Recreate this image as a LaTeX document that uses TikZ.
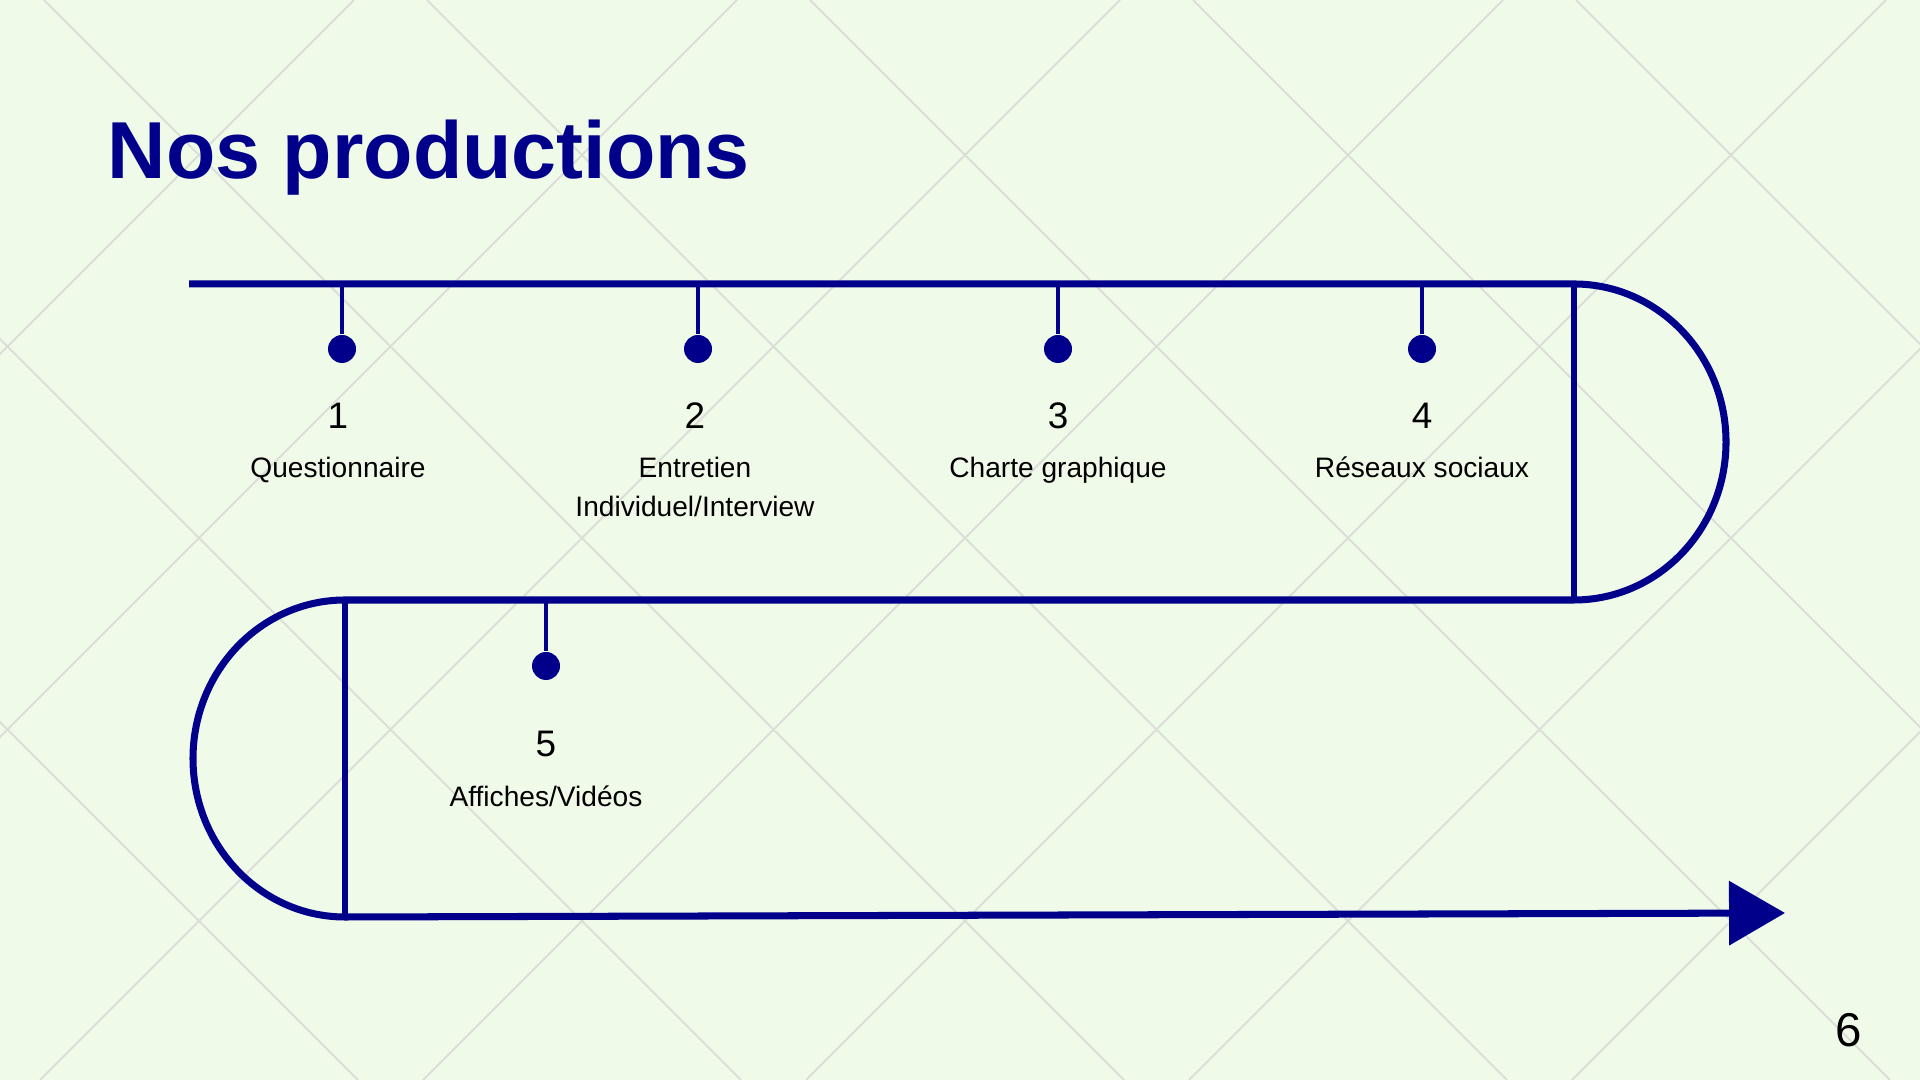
\documentclass[tikz,border=0pt]{standalone}
\usepackage{fontspec}
\setmainfont{Liberation Sans}
\usetikzlibrary{arrows.meta}
\definecolor{navy}{RGB}{0,0,139}
\definecolor{fond}{RGB}{240,250,233}
\definecolor{trame}{RGB}{220,223,216}

\begin{document}
\begin{tikzpicture}[
  frise/.style={draw=navy, line width=2pt},
  bord/.style={draw=navy, line width=1.8pt},
  tige/.style={draw=navy, line width=1.3pt},
  point/.style={circle, fill=navy, inner sep=0pt, minimum size=2.8mm},
  num/.style={anchor=base, inner sep=0pt, font=\fontsize{10.5}{12}\selectfont},
  lab/.style={anchor=base, inner sep=0pt, align=center, font=\fontsize{8}{11.1}\selectfont}
]
  % fond et trame
  \useasboundingbox (0,0) rectangle (19.2,10.8);
  \fill[fond] (0,0) rectangle (19.2,10.8);
  \begin{scope}
    \clip (0,0) rectangle (19.2,10.8);
    \foreach \k in {-4,...,2} \draw[trame, line width=0.55pt] ({8.10+3.83*\k},10.8) -- ++(10.8,-10.8);
    \foreach \k in {-2,...,4} \draw[trame, line width=0.55pt] ({11.20+3.83*\k},10.8) -- ++(-10.8,-10.8);
  \end{scope}

  \node[anchor=base west, inner sep=0pt, text=navy, font=\fontsize{23}{26}\selectfont\bfseries] (titre) at (1.07,9.01) {Nos productions};

  % frise
  \coordinate (a0) at (1.89,7.96);
  \coordinate (a1) at (15.74,7.96);
  \coordinate (a2) at (15.74,4.80);
  \coordinate (a3) at (3.45,4.80);
  \coordinate (a4) at (3.45,1.63);
  \coordinate (fin) at (17.85,1.67);
  \draw[frise] (a0) -- (a1) arc[start angle=90, end angle=-90, x radius=1.52, y radius=1.58] -- (a3) arc[start angle=90, end angle=270, x radius=1.52, y radius=1.585];
  \draw[bord] (a1) -- (a2);
  \draw[bord] (a3) -- (a4);
  \draw[frise, -{Triangle[length=5.6mm, width=6.3mm]}] (a4) -- (fin);

  \coordinate (s1) at (3.42,7.96);  \node[point] (p1) at (3.42,7.31) {};  \draw[tige] (s1) -- (p1);
  \coordinate (s2) at (6.98,7.96);  \node[point] (p2) at (6.98,7.31) {};  \draw[tige] (s2) -- (p2);
  \coordinate (s3) at (10.58,7.96); \node[point] (p3) at (10.58,7.31) {}; \draw[tige] (s3) -- (p3);
  \coordinate (s4) at (14.22,7.96); \node[point] (p4) at (14.22,7.31) {}; \draw[tige] (s4) -- (p4);
  \coordinate (s5) at (5.46,4.80);  \node[point] (p5) at (5.46,4.14) {};  \draw[tige] (s5) -- (p5);

  \node[num] (n1) at (3.38,6.51) {1};
  \node[num] (n2) at (6.95,6.51) {2};
  \node[num] (n3) at (10.58,6.51) {3};
  \node[num] (n4) at (14.22,6.51) {4};
  \node[num] (n5) at (5.46,3.23) {5};
  \node[lab] (l1) at (3.38,6.02) {Questionnaire};
  \node[lab] (l2) at (6.95,5.63) {Entretien\\Individuel/Interview};
  \node[lab] (l3) at (10.58,6.02) {Charte graphique};
  \node[lab] (l4) at (14.22,6.02) {Réseaux sociaux};
  \node[lab] (l5) at (5.46,2.73) {Affiches/Vidéos};

  \node[anchor=base, inner sep=0pt, font=\fontsize{13.5}{16}\selectfont] (page) at (18.49,0.33) {6};
\end{tikzpicture}
\end{document}
